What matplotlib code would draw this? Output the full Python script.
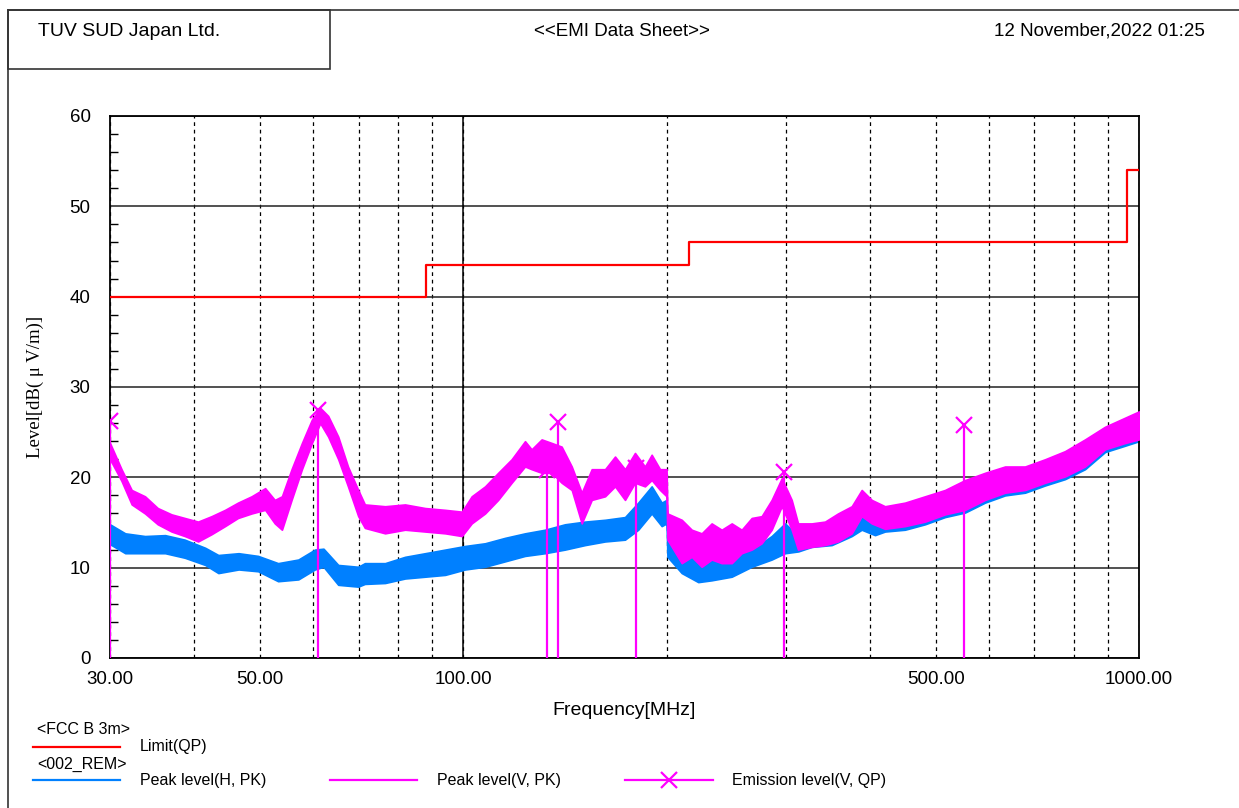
import numpy as np
import matplotlib
matplotlib.use("Agg")
import matplotlib.pyplot as plt
from matplotlib.lines import Line2D
from matplotlib.patches import Rectangle
from matplotlib.ticker import FixedLocator, LogLocator, NullFormatter, MultipleLocator

# ---------------- data ----------------
# Limit line FCC Class B 3 m (QP), step-post
limit_freq = [30.0, 88.0, 216.0, 960.0, 1000.0]
limit_level = [40.0, 43.5, 46.0, 54.0, 54.0]

# Peak level (V, PK) - envelope of the noisy trace (high / low)
v_freq = [30.0, 31.2, 32.3, 33.8, 35.3, 37.0, 38.7, 40.5, 42.4, 44.4, 46.4, 48.6,
          50.9, 52.6, 53.9, 55.7, 57.7, 59.7, 61.4, 63.1, 65.3, 67.5, 69.9, 71.5,
          76.6, 82.0, 87.8, 94.0, 99.5, 102.9, 107.7, 112.6, 117.9, 123.4, 126.2,
          130.6, 135.2, 139.8, 144.7, 149.7, 154.9, 162.1, 167.7, 173.5, 179.5,
          185.7, 190.0, 195.5, 199.9, 200.5, 210.5, 217.8, 225.3, 233.1, 241.2,
          249.6, 258.2, 267.2, 276.4, 286.0, 296.0, 306.2, 312.9, 327.8, 343.0,
          358.5, 375.7, 388.7, 402.2, 420.8, 450.5, 482.3, 516.3, 552.8, 591.7,
          633.5, 678.2, 726.0, 777.2, 832.0, 890.7, 953.5, 1000.0]
v_high = [23.8, 20.9, 18.6, 17.9, 16.6, 15.9, 15.5, 15.1, 15.7, 16.4, 17.2, 17.9,
          18.8, 17.5, 17.9, 20.9, 23.8, 26.4, 27.7, 26.8, 24.5, 21.2, 18.6, 17.0,
          16.8, 17.0, 16.6, 16.4, 16.2, 17.9, 19.0, 20.5, 22.0, 24.0, 23.1,
          24.2, 23.8, 23.4, 21.2, 18.3, 20.9, 20.9, 22.3, 20.9, 22.7,
          21.2, 22.5, 20.9, 20.9, 16.0, 15.3, 14.2, 13.8, 14.9, 14.2,
          14.9, 14.2, 15.5, 15.7, 17.5, 19.9, 17.5, 14.9, 14.9, 15.1,
          16.0, 16.8, 18.6, 17.5, 16.8, 17.2, 17.9, 18.6, 19.7, 20.5,
          21.2, 21.2, 22.0, 22.9, 24.2, 25.6, 26.6, 27.3]
v_low = [22.0, 19.6, 17.0, 16.0, 14.8, 14.0, 13.5, 12.9, 13.7, 14.6, 15.5, 16.0,
         16.4, 14.9, 14.2, 17.5, 20.9, 23.8, 26.0, 24.5, 22.0, 19.0, 15.7, 14.4,
         13.8, 14.2, 14.0, 13.8, 13.5, 14.9, 16.0, 17.5, 19.4, 21.2, 20.9,
         20.5, 20.5, 19.4, 18.6, 14.9, 17.5, 17.9, 19.0, 17.5, 19.4,
         19.0, 19.7, 18.6, 17.9, 13.1, 10.5, 11.2, 10.1, 10.9, 10.5,
         10.5, 11.6, 12.0, 12.7, 14.2, 16.8, 14.2, 12.0, 12.3, 12.5,
         12.9, 13.8, 15.7, 14.9, 14.3, 14.6, 15.1, 15.9, 16.4, 17.5,
         18.3, 18.6, 19.4, 20.1, 21.2, 23.1, 23.8, 24.2]

# Peak level (H, PK) - envelope of the noisy trace (high / low)
h_freq = [30.0, 31.6, 33.8, 36.2, 38.7, 41.5, 43.4, 46.5, 49.7, 53.2, 57.0, 60.3,
          62.1, 65.3, 69.9, 71.5, 76.6, 82.0, 87.8, 94.0, 100.6, 107.7, 115.3,
          123.4, 132.1, 141.4, 151.4, 162.1, 173.5, 181.5, 190.0, 196.6, 199.9,
          200.5, 210.5, 222.7, 233.1, 249.6, 267.2, 286.0, 299.3, 313.2, 327.8,
          350.9, 375.7, 388.7, 406.7, 420.8, 450.5, 482.3, 516.3, 552.8, 591.7,
          633.5, 678.2, 726.0, 777.2, 832.0, 890.7, 953.5, 1000.0]
h_high = [14.8, 13.8, 13.5, 13.6, 13.1, 12.2, 11.4, 11.6, 11.3, 10.5, 10.9, 12.0,
          12.1, 10.3, 10.1, 10.5, 10.5, 11.2, 11.6, 12.0, 12.4, 12.7, 13.3,
          13.8, 14.2, 14.8, 15.1, 15.3, 15.6, 17.2, 19.0, 17.2, 17.5,
          13.5, 12.0, 10.9, 10.9, 11.3, 12.0, 13.5, 14.9, 13.5, 13.8,
          14.2, 14.9, 16.8, 15.1, 15.7, 17.0, 17.6, 18.4, 19.4, 20.3,
          21.0, 21.0, 21.8, 22.7, 24.0, 25.4, 26.4, 27.2]
h_low = [12.6, 11.6, 11.6, 11.6, 11.1, 10.3, 9.4, 9.8, 9.6, 8.5, 8.7, 9.8,
         10.1, 8.1, 7.9, 8.2, 8.3, 8.8, 9.0, 9.2, 9.8, 10.1, 10.7,
         11.3, 11.6, 12.0, 12.5, 12.9, 13.1, 14.2, 16.0, 14.6, 14.9,
         11.2, 9.4, 8.4, 8.6, 9.0, 10.1, 10.9, 11.6, 11.8, 12.3,
         12.5, 13.5, 14.2, 13.6, 14.0, 14.2, 14.8, 15.6, 16.1, 17.2,
         18.0, 18.3, 19.1, 19.8, 20.9, 22.8, 23.5, 24.0]

# Emission level (V, QP)
qp_freq = [30.0, 61.0, 133.0, 138.2, 180.1, 298.0, 551.0]
qp_level = [26.2, 27.4, 20.8, 26.1, 21.0, 20.6, 25.8]

x_ticks = [30, 50, 100, 500, 1000]
x_ticklabels = ["30.00", "50.00", "100.00", "500.00", "1000.00"]
y_ticks = [0, 10, 20, 30, 40, 50, 60]

# ---------------- style ----------------
RED = "#ff0000"
BLUE = "#0080ff"
MAG = "#ff00ff"
SANS = ["Liberation Sans", "DejaVu Sans"]
SERIF = ["Liberation Serif", "DejaVu Serif"]

W, H = 1239, 808
fig = plt.figure(figsize=(W / 100, H / 100), dpi=100)
fig.patch.set_facecolor("white")


def fx(px):
    return px / W


def fy(py):
    return 1 - py / H


ax = fig.add_axes([fx(110), fy(658), (1139 - 110) / W, (658 - 116) / H])
ax.set_xscale("log")
ax.set_xlim(30, 1000)
ax.set_ylim(0, 60)

# grid
ax.xaxis.set_major_locator(FixedLocator(x_ticks))
ax.set_xticklabels(x_ticklabels)
ax.xaxis.set_minor_locator(LogLocator(base=10, subs=np.arange(1, 10)))
ax.xaxis.set_minor_formatter(NullFormatter())
ax.xaxis.remove_overlapping_locs = False
ax.grid(which="minor", axis="x", color="black", linestyle=(0, (3, 3)), linewidth=0.9)
ax.axvline(100, color="black", linewidth=1.1, zorder=1.5)
ax.yaxis.set_major_locator(FixedLocator(y_ticks))
ax.yaxis.set_minor_locator(MultipleLocator(2))
ax.grid(which="major", axis="y", color="#222222", linewidth=1.1)
ax.set_axisbelow(True)

ax.tick_params(axis="x", which="both", length=0, pad=9, labelsize=13.5)
ax.tick_params(axis="y", which="major", length=0, pad=14, labelsize=13.5)
ax.tick_params(axis="y", which="minor", direction="in", length=6, width=1, color="black")
for lab in ax.get_xticklabels() + ax.get_yticklabels():
    lab.set_family(SANS)
for sp in ax.spines.values():
    sp.set_linewidth(1.3)
    sp.set_color("black")

# traces
ax.fill_between(h_freq, h_low, h_high, color=BLUE, linewidth=1.2, edgecolor=BLUE, zorder=2)
ax.fill_between(v_freq, v_low, v_high, color=MAG, linewidth=1.2, edgecolor=MAG, zorder=3)
ax.plot(limit_freq, limit_level, drawstyle="steps-post", color=RED, linewidth=1.6, zorder=4)
ax.vlines(qp_freq, 0, qp_level, color=MAG, linewidth=1.6, zorder=4)
ax.plot(qp_freq, qp_level, linestyle="none", marker="x", markersize=11, markeredgewidth=1.6,
        color=MAG, zorder=5)

ax.set_xlabel("Frequency[MHz]", fontsize=14, family=SANS)
ax.xaxis.set_label_coords(0.5, -(702 - 658) / 542)
ax.set_ylabel("Level[dB( \u03bc V/m)]", fontsize=13.5, family=SERIF)
ax.yaxis.set_label_coords((44 - 110) / 1029, 0.5)

# ---------------- header frame ----------------
fig.add_artist(Line2D([fx(8), 1.0], [fy(10), fy(10)], transform=fig.transFigure,
                      color="#333333", linewidth=1.2))
fig.add_artist(Line2D([fx(8), fx(8)], [fy(10), 0.0], transform=fig.transFigure,
                      color="#333333", linewidth=1.2))
fig.add_artist(Rectangle((fx(8), fy(69)), fx(330) - fx(8), fy(10) - fy(69),
                         transform=fig.transFigure, fill=False, edgecolor="#333333",
                         linewidth=1.2))
fig.text(fx(38), fy(31), "TUV SUD Japan Ltd.", fontsize=14, family=SANS, va="center", ha="left")
fig.text(fx(622), fy(31), "<<EMI Data Sheet>>", fontsize=13.5, family=SANS, va="center", ha="center")
fig.text(fx(1205), fy(31), "12 November,2022 01:25", fontsize=13.5, family=SANS, va="center", ha="right")

# ---------------- legend ----------------
LFS = 11.5
fig.text(fx(37), fy(730), "<FCC B 3m>", fontsize=LFS, family=SANS, va="center")
fig.add_artist(Line2D([fx(33), fx(120)], [fy(747), fy(747)], transform=fig.transFigure,
                      color=RED, linewidth=1.6))
fig.text(fx(140), fy(747), "Limit(QP)", fontsize=LFS, family=SANS, va="center")
fig.text(fx(37), fy(764), "<002_REM>", fontsize=LFS, family=SANS, va="center")
fig.add_artist(Line2D([fx(33), fx(120)], [fy(780), fy(780)], transform=fig.transFigure,
                      color=BLUE, linewidth=1.6))
fig.text(fx(140), fy(780), "Peak level(H, PK)", fontsize=LFS, family=SANS, va="center")
fig.add_artist(Line2D([fx(330), fx(417)], [fy(780), fy(780)], transform=fig.transFigure,
                      color=MAG, linewidth=1.6))
fig.text(fx(437), fy(780), "Peak level(V, PK)", fontsize=LFS, family=SANS, va="center")
fig.add_artist(Line2D([fx(625), fx(713)], [fy(780), fy(780)], transform=fig.transFigure,
                      color=MAG, linewidth=1.6))
fig.add_artist(Line2D([fx(669)], [fy(780)], transform=fig.transFigure, color=MAG,
                      marker="x", markersize=11, markeredgewidth=1.6, linestyle="none"))
fig.text(fx(732), fy(780), "Emission level(V, QP)", fontsize=LFS, family=SANS, va="center")

fig.savefig("out.png", dpi=100, facecolor="white")
